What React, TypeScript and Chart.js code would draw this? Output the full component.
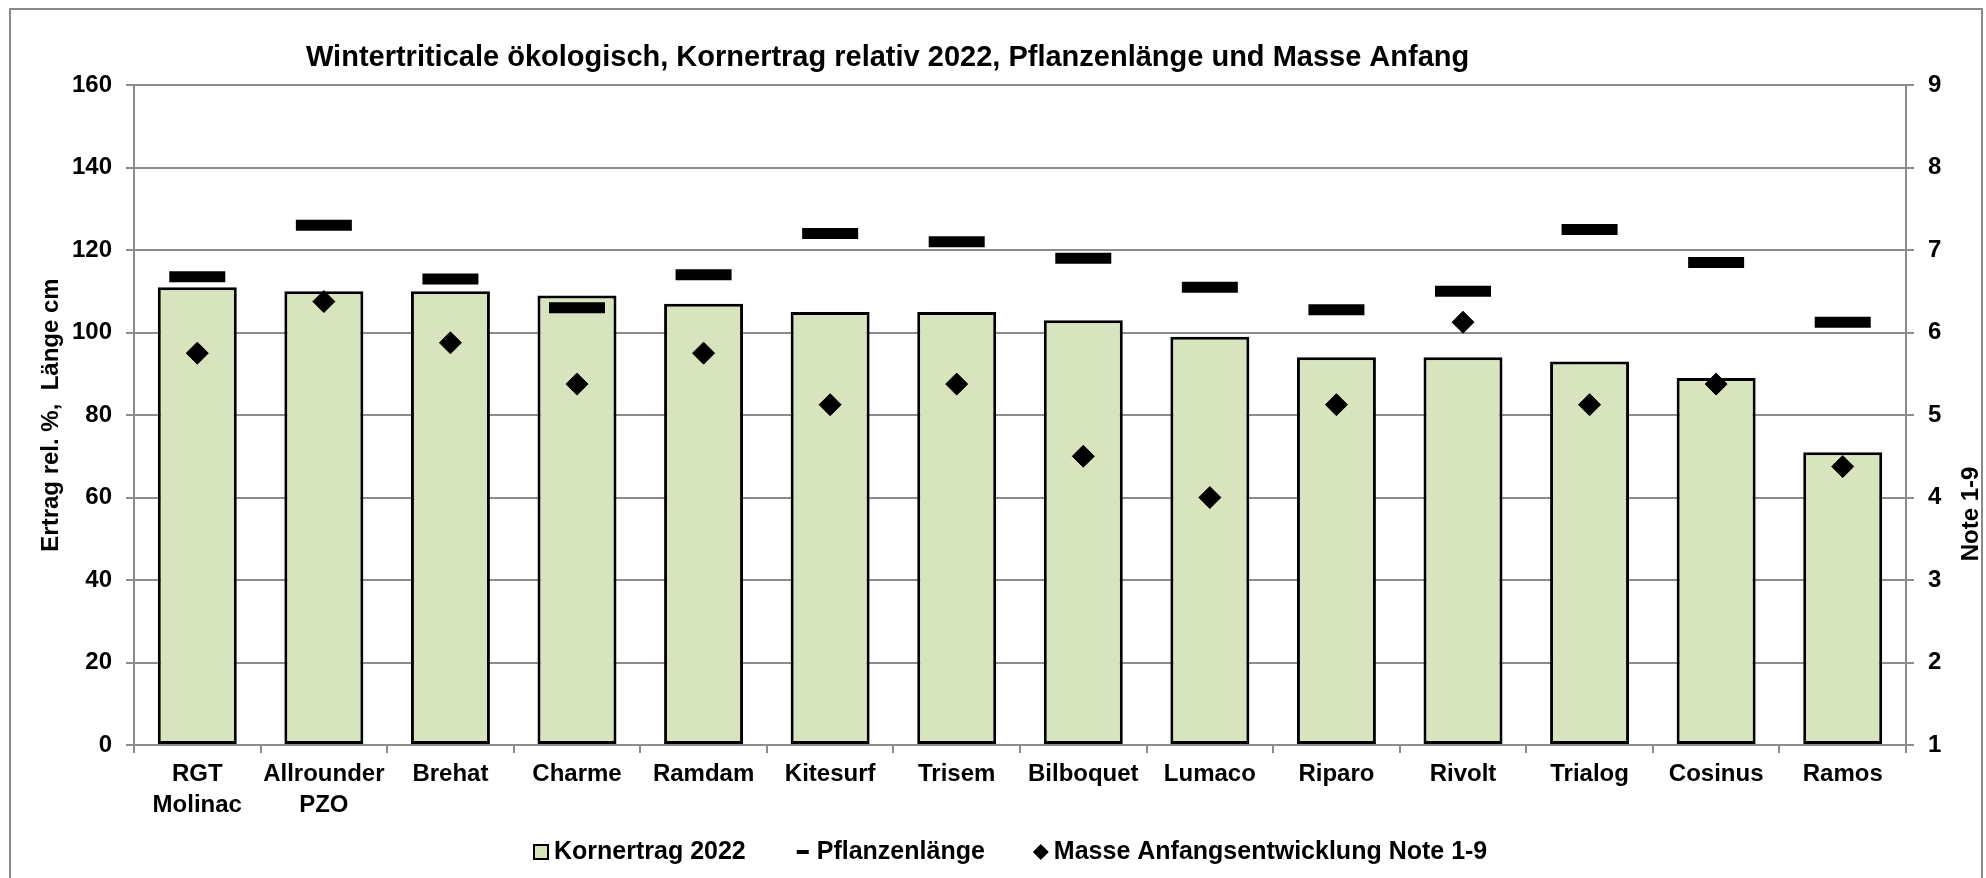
import React, { useEffect, useRef } from 'react';
import { Chart, registerables } from 'chart.js';

Chart.register(...registerables);

// ---------- data ----------
const categories: (string | string[])[] = [
  ['RGT', 'Molinac'],
  ['Allrounder', 'PZO'],
  'Brehat',
  'Charme',
  'Ramdam',
  'Kitesurf',
  'Trisem',
  'Bilboquet',
  'Lumaco',
  'Riparo',
  'Rivolt',
  'Trialog',
  'Cosinus',
  'Ramos',
];

const kornertrag2022 = [111, 110, 110, 109, 107, 105, 105, 103, 99, 94, 94, 93, 89, 71];
const pflanzenlaenge = [113.5, 126, 113, 106, 114, 124, 122, 118, 111, 105.5, 110, 125, 117, 102.5];
const masseNote = [5.75, 6.375, 5.875, 5.375, 5.75, 5.125, 5.375, 4.5, 4.0, 5.125, 6.125, 5.125, 5.375, 4.375];

const seriesLabels = ['Kornertrag 2022', 'Pflanzenlänge', 'Masse Anfangsentwicklung Note 1-9'];

const leftAxisRange = [0, 160];
const leftAxisStep = 20;
const rightAxisRange = [1, 9];
const rightAxisStep = 1;

const titleText = 'Wintertriticale ökologisch, Kornertrag relativ 2022, Pflanzenlänge und Masse Anfang';
const leftAxisTitle = 'Ertrag rel. %,  Länge cm';
const rightAxisTitle = 'Note 1-9';

// ---------- styles ----------
const FONT = '"Liberation Sans", Arial, Helvetica, sans-serif';
const GRID = '#8c8c8c';
const BAR_FILL = '#d7e4bd';
const W = 1986;
const H = 878;

const decorPlugin = {
  id: 'decor',
  beforeDraw(chart: any) {
    const { ctx, width, height } = chart;
    ctx.save();
    ctx.fillStyle = '#ffffff';
    ctx.fillRect(0, 0, width, height);
    ctx.strokeStyle = '#8a8a8a';
    ctx.lineWidth = 2;
    ctx.strokeRect(10, 9, 1972, height + 20);
    ctx.restore();
  },
  afterDraw(chart: any) {
    const { ctx, chartArea } = chart;
    ctx.save();
    ctx.fillStyle = '#000';
    ctx.textBaseline = 'middle';

    // chart title
    ctx.font = `bold 29px ${FONT}`;
    ctx.textAlign = 'left';
    ctx.fillText(titleText, 306, 58);

    // axis titles
    ctx.font = `bold 24px ${FONT}`;
    ctx.textAlign = 'center';
    ctx.save();
    ctx.translate(51, (chartArea.top + chartArea.bottom) / 2);
    ctx.rotate(-Math.PI / 2);
    ctx.fillText(leftAxisTitle, 0, 0);
    ctx.restore();

    ctx.save();
    ctx.translate(1971, 514);
    ctx.rotate(-Math.PI / 2);
    ctx.fillText(rightAxisTitle, 0, 0);
    ctx.restore();

    // legend
    const ds = chart.data.datasets;
    const ly = 852;
    ctx.textAlign = 'left';
    ctx.font = `bold 25px ${FONT}`;
    let x = 534;
    // bar marker
    ctx.fillStyle = BAR_FILL;
    ctx.fillRect(x, ly - 7, 14, 14);
    ctx.strokeStyle = '#000';
    ctx.lineWidth = 2;
    ctx.strokeRect(x, ly - 7, 14, 14);
    ctx.fillStyle = '#000';
    ctx.fillText(ds[0].label, x + 20, ly);
    x = x + 20 + ctx.measureText(ds[0].label).width + 51;
    // dash marker
    ctx.fillRect(x, ly - 2, 12, 4);
    ctx.fillText(ds[1].label, x + 20, ly);
    x = x + 20 + ctx.measureText(ds[1].label).width + 48;
    // diamond marker
    ctx.beginPath();
    ctx.moveTo(x + 8, ly - 8);
    ctx.lineTo(x + 16, ly);
    ctx.lineTo(x + 8, ly + 8);
    ctx.lineTo(x, ly);
    ctx.closePath();
    ctx.fill();
    ctx.fillText(ds[2].label, x + 21, ly);

    ctx.restore();
  },
};

export default function App() {
  const canvasRef = useRef<HTMLCanvasElement | null>(null);

  useEffect(() => {
    if (!canvasRef.current) return;
    const tickFont = { family: FONT, size: 24, weight: 'bold' as const, lineHeight: 1.3 };
    const chart = new Chart(canvasRef.current, {
      type: 'bar',
      data: {
        labels: categories,
        datasets: [
          {
            type: 'bar',
            label: seriesLabels[0],
            data: kornertrag2022,
            backgroundColor: BAR_FILL,
            borderColor: '#000',
            borderWidth: 3,
            borderSkipped: false,
            barPercentage: 0.624,
            categoryPercentage: 1,
            yAxisID: 'y',
            order: 3,
          } as any,
          {
            type: 'line',
            label: seriesLabels[1],
            data: pflanzenlaenge,
            showLine: false,
            pointStyle: 'line',
            pointRadius: 28,
            pointBorderWidth: 11,
            pointBorderColor: '#000',
            pointBackgroundColor: '#000',
            yAxisID: 'y',
            order: 2,
          } as any,
          {
            type: 'line',
            label: seriesLabels[2],
            data: masseNote,
            showLine: false,
            pointStyle: 'rectRot',
            pointRadius: 11,
            pointBorderWidth: 1,
            pointBorderColor: '#000',
            pointBackgroundColor: '#000',
            yAxisID: 'y2',
            order: 1,
          } as any,
        ],
      },
      options: {
        responsive: false,
        animation: false,
        devicePixelRatio: 1,
        events: [],
        layout: { padding: { top: 85, left: 0, right: 0, bottom: 0 } },
        plugins: {
          legend: { display: false },
          title: { display: false },
          tooltip: { enabled: false },
        },
        scales: {
          x: {
            type: 'category',
            offset: true,
            grid: {
              display: true,
              drawOnChartArea: false,
              drawTicks: true,
              tickLength: 8,
              color: GRID,
              lineWidth: 2,
              offset: true,
            },
            border: { display: true, color: GRID, width: 2 },
            ticks: {
              font: tickFont,
              color: '#000',
              padding: 6,
              maxRotation: 0,
              minRotation: 0,
              autoSkip: false,
            },
            afterFit: (s: any) => {
              s.height = 133;
            },
          },
          y: {
            position: 'left',
            min: leftAxisRange[0],
            max: leftAxisRange[1],
            ticks: { stepSize: leftAxisStep, font: tickFont, color: '#000', padding: 14 },
            grid: { color: GRID, lineWidth: 2, tickLength: 8 },
            border: { color: GRID, width: 2 },
            afterFit: (s: any) => {
              s.width = 134;
            },
          },
          y2: {
            position: 'right',
            min: rightAxisRange[0],
            max: rightAxisRange[1],
            ticks: { stepSize: rightAxisStep, font: tickFont, color: '#000', padding: 14 },
            grid: { drawOnChartArea: false, color: GRID, lineWidth: 2, tickLength: 8 },
            border: { color: GRID, width: 2 },
            afterFit: (s: any) => {
              s.width = 80;
            },
          },
        },
      } as any,
      plugins: [decorPlugin],
    });
    return () => chart.destroy();
  }, []);

  return (
    <div style={{ position: 'absolute', left: 0, top: 0, width: W, height: H, background: '#fff' }}>
      <canvas ref={canvasRef} width={W} height={H} style={{ display: 'block', width: W, height: H }} />
    </div>
  );
}
